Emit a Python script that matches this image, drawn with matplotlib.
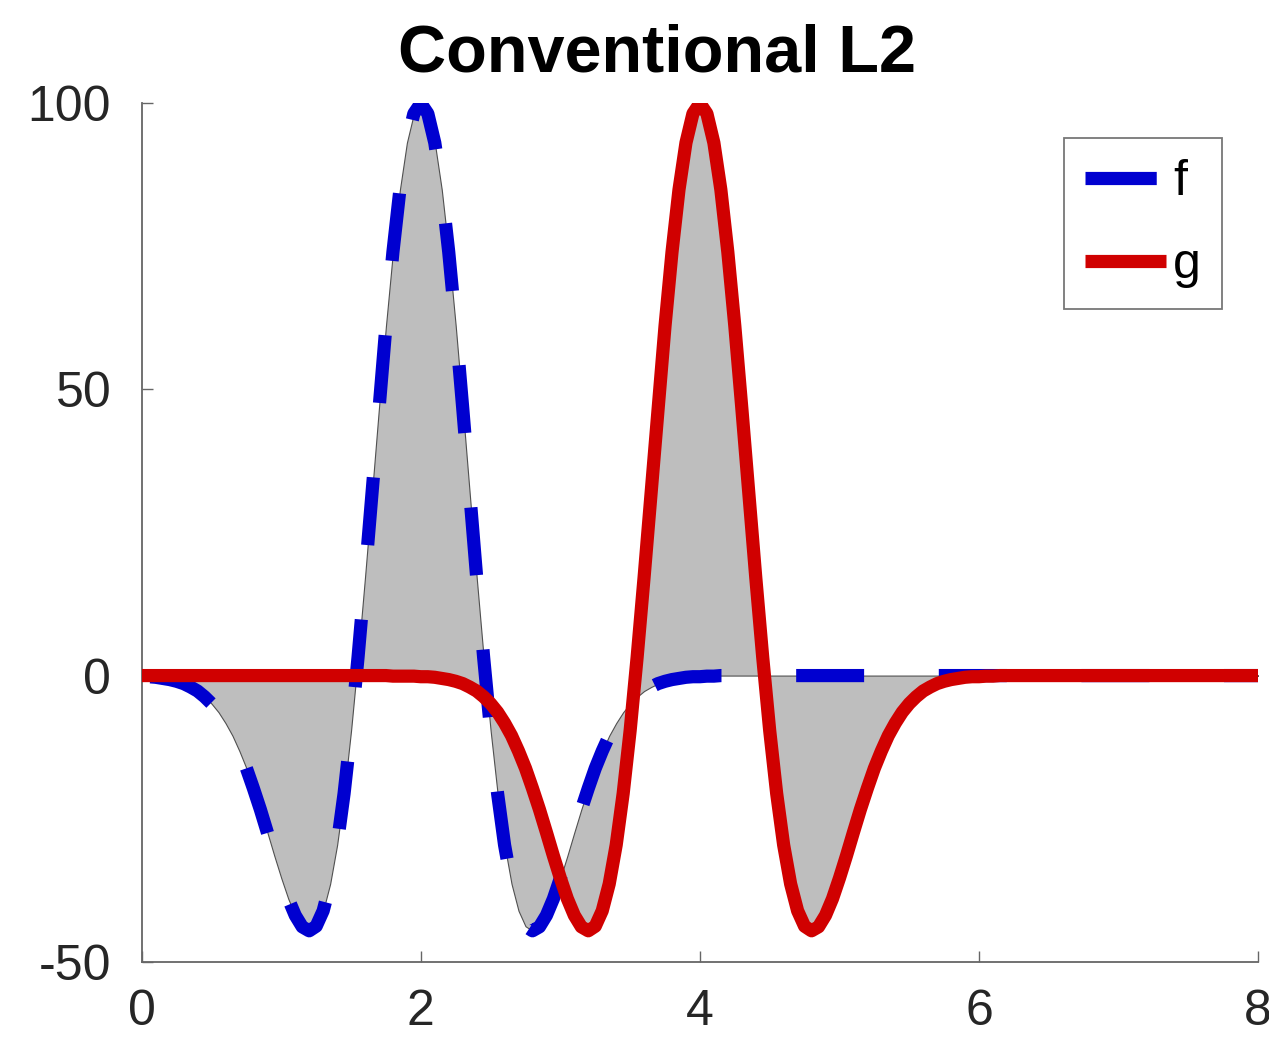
import numpy as np
import matplotlib
matplotlib.use('Agg')
import matplotlib.pyplot as plt

plt.rcParams['font.family'] = ['Liberation Sans', 'DejaVu Sans']
plt.rcParams['axes.unicode_minus'] = False

# sample positions (x axis, step 0.05)
x = np.linspace(0, 8, 161)

# f: wavelet centred at x=2
f_vals = ([-0.2, -0.2, -0.3, -0.5, -0.7, -1.0, -1.4, -2.0, -2.7, -3.7,
           -4.9, -6.4, -8.3, -10.5, -13.2, -16.2, -19.7, -23.4, -27.4, -31.5,
           -35.4, -39.0, -41.9, -43.9, -44.6, -43.8, -41.1, -36.4, -29.6, -20.6,
           -9.6, 3.2, 17.2, 31.9, 46.8, 61.1, 74.0, 84.9, 93.1, 98.2,
           100.0,
           98.2, 93.1, 84.9, 74.0, 61.1, 46.8, 31.9, 17.2, 3.2, -9.6,
           -20.6, -29.6, -36.4, -41.1, -43.8, -44.6, -43.9, -41.9, -39.0, -35.4,
           -31.5, -27.4, -23.4, -19.7, -16.2, -13.2, -10.5, -8.3, -6.4, -4.9,
           -3.7, -2.7, -2.0, -1.4, -1.0, -0.7, -0.5, -0.3, -0.2, -0.2,
           -0.1, -0.1]
          + [0.0] * 78)

# g: same wavelet shifted to x=4 (red curve)
g_vals = ([0.0] * 36 + [-0.1, -0.1, -0.1, -0.1]
          + [-0.2, -0.2, -0.3, -0.5, -0.7, -1.0, -1.4, -2.0, -2.7, -3.7,
             -4.9, -6.4, -8.3, -10.5, -13.2, -16.2, -19.7, -23.4, -27.4, -31.5,
             -35.4, -39.0, -41.9, -43.9, -44.6, -43.8, -41.1, -36.4, -29.6, -20.6,
             -9.6, 3.2, 17.2, 31.9, 46.8, 61.1, 74.0, 84.9, 93.1, 98.2,
             100.0,
             98.2, 93.1, 84.9, 74.0, 61.1, 46.8, 31.9, 17.2, 3.2, -9.6,
             -20.6, -29.6, -36.4, -41.1, -43.8, -44.6, -43.9, -41.9, -39.0, -35.4,
             -31.5, -27.4, -23.4, -19.7, -16.2, -13.2, -10.5, -8.3, -6.4, -4.9,
             -3.7, -2.7, -2.0, -1.4, -1.0, -0.7, -0.5, -0.3, -0.2, -0.2]
          + [-0.1, -0.1] + [0.0] * 38)

f = np.array(f_vals)
g = np.array(g_vals)

xticks = [0, 2, 4, 6, 8]
yticks = [-50, 0, 50, 100]

fig = plt.figure(figsize=(12.69, 10.37), dpi=100)
ax = fig.add_axes([0.1117, 0.0726, 0.8797, 0.8278])

ax.fill_between(x, f, g, facecolor='#bebebe', edgecolor='#505050',
                linewidth=0.8, zorder=1)
ax.plot(x, f, color='#0000d0', linewidth=9.5, linestyle=(10.16, (5.15, 5.66)),
        dash_joinstyle='round', label='f', zorder=2)
ax.plot(x, g, color='#d00000', linewidth=9.5, solid_capstyle='butt',
        solid_joinstyle='round', label='g', zorder=3)

ax.set_xlim(0, 8)
ax.set_ylim(-50, 100)
ax.set_xticks(xticks)
ax.set_yticks(yticks)
ax.set_xticklabels([str(v) for v in xticks])
ax.set_yticklabels([str(v) for v in yticks])

for side in ['top', 'right']:
    ax.spines[side].set_visible(False)
for side in ['left', 'bottom']:
    ax.spines[side].set_color('#666666')
    ax.spines[side].set_linewidth(1.3)

ax.tick_params(axis='both', direction='in', length=8, width=1,
               color='#666666', labelsize=36, labelcolor='#262626')
ax.tick_params(axis='x', pad=20)
ax.tick_params(axis='y', pad=22)

leg = ax.legend(loc='upper right', bbox_to_anchor=(0.9678, 0.9595),
                borderaxespad=0, fontsize=36, handlelength=1.62,
                handletextpad=0.15, borderpad=0.42,
                labelspacing=0.74, fancybox=False, framealpha=1)
leg.get_frame().set_edgecolor('#777777')
leg.get_frame().set_linewidth(1.3)
# legend sample for f starts with a full dash
leg.get_lines()[0].set_linestyle((0, (5.4, 5.66)))

fig.text(0.5177, 0.9306, 'Conventional L2', ha='center', va='baseline',
         fontsize=48, fontweight='bold', color='black')

plt.savefig('out.png', dpi=100)
